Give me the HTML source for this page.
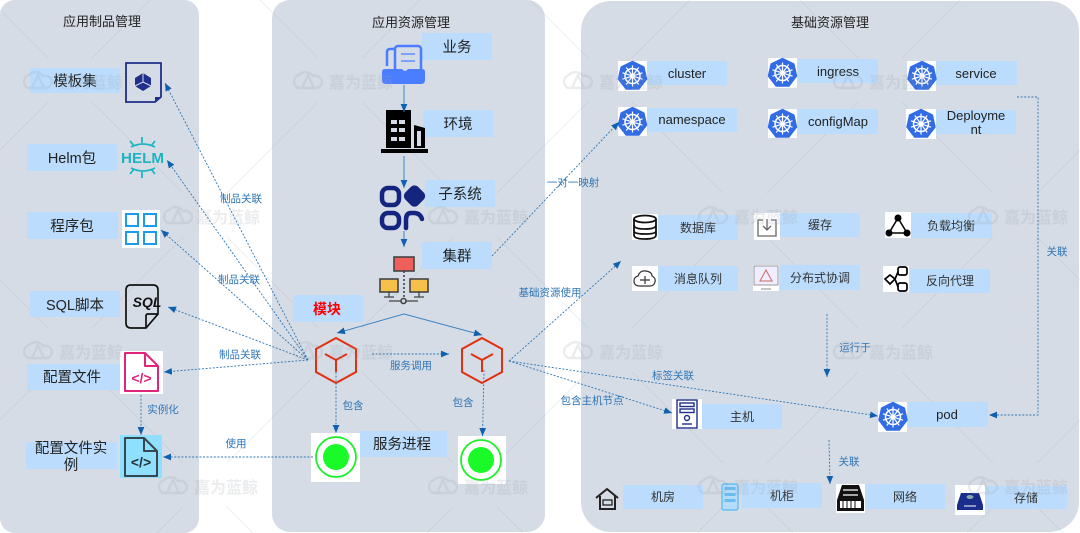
<!DOCTYPE html>
<html><head><meta charset="utf-8">
<style>
html,body{margin:0;padding:0;background:#fff;width:1080px;height:533px;overflow:hidden}
svg{display:block}
text{font-family:"Liberation Sans","Noto Sans CJK SC",sans-serif}
.l{font-size:14.5px;fill:#222;text-anchor:middle}
.m{font-size:12px;fill:#333;text-anchor:middle}
.e{font-size:13px;fill:#222;text-anchor:middle}
.t{font-size:13px;fill:#222;text-anchor:middle}
.c{font-size:10.5px;fill:#2e75b6;text-anchor:middle}
.w{font-size:16px;font-weight:bold;fill:#9aa0a8;letter-spacing:0}
.d{stroke:#2e75b6;stroke-width:.9;stroke-dasharray:2 1.6;fill:none}
.s{stroke:#3d85c6;stroke-width:1;fill:none}
.b{fill:#bbdcfd}
</style></head><body>
<svg width="1080" height="533" viewBox="0 0 1080 533" xmlns="http://www.w3.org/2000/svg">
<defs>
<marker id="a" markerUnits="userSpaceOnUse" markerWidth="9" markerHeight="8" refX="8" refY="4" orient="auto"><path d="M0 .6L8 4L0 7.400Z" fill="#1060b0"/></marker>
<g id="cl" fill="none" stroke="#9aa0a8" stroke-width="2.400"><path d="M8 17a7 7 0 0 1 1-13a9 9 0 0 1 14 1a7 7 0 0 1 9 6a6.500 6.500 0 0 1-5 6H8Z"/><path d="M12 17L18 4L24 17"/></g>
<g id="k"><path d="M0-14.500L11.300-9L14 3.100L6.300 13H-6.300L-14 3.100L-11.300-9Z" fill="#326ce5" stroke="#326ce5" stroke-width="1.500" stroke-linejoin="round"/>
<g fill="none" stroke="#fff"><circle r="7.500" stroke-width="1.500"/><circle r="2" stroke-width="1.200"/><path stroke-width="1.200" d="M0-10.500V10.500M-10-3.200L10 3.200M10-3.200L-10 3.200M-6.200-8.500L6.200 8.500M6.200-8.500L-6.200 8.500"/></g></g>
</defs>
<rect width="1080" height="533" fill="#fff"/>
<rect x="0" y="0" width="199" height="533" rx="15" fill="#d6dce5"/>
<rect x="272" y="0" width="273" height="532" rx="18" fill="#d6dce5"/>
<rect x="581" y="1" width="498" height="531" rx="30" fill="#d6dce5"/>

<!-- background lattice -->
<path stroke="#8a94a4" stroke-width="1" opacity=".14" fill="none" d="
M48 58L0 10M92 58L150 0M318 58L260 0M362 58L420 0M588 58L530 0M632 58L690 0M858 58L800 0M902 58L960 0
M92 102l91 91M362 102l91 91M632 102l91 91M902 102l91 91
M318 102l-91 91M588 102l-91 91M858 102l-91 91M48 102L0 150
M1037 193L1080 150
M183 237l-91 91M453 237l-91 91M723 237l-91 91M993 237l-91 91
M227 237l91 91M497 237l91 91M767 237l91 91M1037 237L1080 280
M48 328L0 280
M92 372l91 91M362 372l91 91M632 372l91 91M902 372l91 91
M318 372l-91 91M588 372l-91 91M858 372l-91 91M48 372L0 420
M1037 463L1080 420
M183 507L157 533M227 507L253 533M453 507L427 533M497 507L523 533M723 507L697 533M767 507L793 533M993 507L967 533M1037 507L1063 533
M227 193l91-91M497 193l91-91M767 193l91-91M183 193L92 102M453 193L362 102M723 193L632 102M993 193L902 102
M92 328l91-91M362 328l91-91M632 328l91-91M902 328l91-91M318 328L227 237M588 328L497 237M858 328L767 237
"/>

<!-- label boxes -->
<g class="b">
<rect x="30" y="68" width="90" height="25"/><rect x="27" y="144" width="90" height="27"/><rect x="27" y="212" width="91" height="27"/><rect x="30" y="291" width="90" height="26"/><rect x="27" y="364" width="93" height="26"/><rect x="26" y="442" width="91" height="27"/>
<rect x="422" y="33" width="70" height="27"/><rect x="423" y="110" width="70" height="27"/><rect x="425" y="180" width="70" height="27"/><rect x="422" y="242" width="70" height="27"/><rect x="293" y="295" width="70" height="27"/><rect x="357" y="431" width="90" height="26"/>
<rect x="647" y="61" width="80" height="24"/><rect x="647" y="108" width="90" height="24"/><rect x="798" y="59" width="80" height="24"/><rect x="798" y="109" width="80" height="25"/><rect x="936" y="61" width="81" height="24"/><rect x="936" y="110" width="80" height="24"/>
<rect x="658" y="215" width="80" height="25"/><rect x="780" y="213" width="80" height="24"/><rect x="911" y="213" width="81" height="25"/><rect x="658" y="266" width="80" height="25"/><rect x="780" y="265" width="80" height="25"/><rect x="910" y="269" width="80" height="24"/>
<rect x="702" y="404" width="80" height="25"/><rect x="908" y="402" width="80" height="25"/><rect x="623" y="485" width="80" height="24"/><rect x="742" y="483" width="80" height="25"/><rect x="865" y="484" width="80" height="25"/><rect x="985" y="486" width="82" height="23"/>
</g>

<!-- titles -->
<text class="t" x="102" y="26">应用制品管理</text>
<text class="t" x="411" y="27">应用资源管理</text>
<text class="t" x="830" y="27">基础资源管理</text>

<!-- left icons -->
<path d="M126 63H161V97L155 102H126Z" fill="none" stroke="#1f2f8a" stroke-width="1.800"/><path d="M155 102L161 97H155Z" fill="#1f2f8a"/>
<path d="M143 73L151 78V86L143 91L135 86V78Z" fill="#1f2f8a"/><path d="M143 82V73M143 82L135 86M143 82L151 86" stroke="#d6dce5" stroke-width="1"/>
<g stroke="#1db4c2" fill="none" stroke-width="1.800"><path d="M131 147Q143 141 155 147M131 168Q143 174 155 168M142 137V143M142 172V178M130 141L134 146M155 141L151 146M130 174L134 169M155 174L151 169"/></g>
<text x="142.500" y="163" text-anchor="middle" font-size="15" font-weight="bold" fill="#1db4c2" textLength="43" lengthAdjust="spacingAndGlyphs">HELM</text>
<rect x="122" y="210" width="38" height="38" fill="#fff"/>
<g fill="none" stroke="#1e9be8" stroke-width="2"><rect x="126" y="214" width="12" height="12"/><rect x="144" y="214" width="12" height="12"/><rect x="126" y="232" width="12" height="12"/><rect x="144" y="232" width="12" height="12"/></g>
<path d="M131 285H153Q158 285 158 290V314L146 328H131Q126 328 126 323V290Q126 285 131 285ZM158 314H148Q146 314 146 316V328" fill="none" stroke="#111" stroke-width="1.700"/>
<text x="147" y="307" text-anchor="middle" font-size="14" font-weight="bold" font-style="italic" fill="#111">SQL</text>
<rect x="120" y="351" width="43" height="43" fill="#fff"/>
<path d="M125 353H145L158 366V391H125ZM145 353V366H158" fill="none" stroke="#e0257a" stroke-width="2" stroke-linejoin="round"/>
<text x="141.500" y="383" text-anchor="middle" font-size="14" font-weight="bold" fill="#e0257a">&lt;/&gt;</text>
<rect x="120" y="435" width="42" height="43" fill="#8fdfff"/>
<path d="M125 438H144L157 451V476H125ZM144 438V451H157" fill="none" stroke="#37474f" stroke-width="2" stroke-linejoin="round"/>
<text x="141" y="467" text-anchor="middle" font-size="14" font-weight="bold" fill="#263238">&lt;/&gt;</text>

<!-- middle icons -->
<path d="M394 49H390Q387 49 387 52V66" fill="none" stroke="#4a7dff" stroke-width="2.500"/>
<rect x="395" y="46" width="26" height="26" rx="3" fill="none" stroke="#4a7dff" stroke-width="2.500"/>
<path d="M401 54H415M401 61H415" stroke="#7ba2ff" stroke-width="2"/>
<path d="M382 72Q382 69 385 69H402L405 72L408 69H422Q425 69 425 72V80Q425 84 421 84H386Q382 84 382 80Z" fill="#4a7dff"/>
<path d="M386 110H411V148H386ZM414 125L425 128V148H414ZM381 149H428V153H381Z" fill="#000"/>
<g fill="#d6dce5"><rect x="391" y="120" width="6" height="4"/><rect x="399" y="120" width="6" height="4"/><rect x="391" y="128" width="6" height="4"/><rect x="399" y="128" width="6" height="4"/><rect x="391" y="137" width="6" height="4"/><rect x="399" y="137" width="6" height="4"/><rect x="417" y="131" width="4" height="15"/></g>
<g fill="none" stroke="#13257f" stroke-width="4.500"><rect x="382" y="188" width="17" height="17" rx="6"/><rect x="382" y="213" width="17" height="15" rx="6"/><path d="M422 219Q420 213 414 213H411Q406 213 406 220V228" stroke-linecap="round"/></g>
<rect x="405.500" y="187" width="18" height="18" rx="5" fill="#13257f" transform="rotate(45 414.500 196)"/>
<g stroke="#444" fill="none" stroke-width="1.600">
<rect x="394" y="257" width="20" height="14" fill="#f0605a"/>
<path d="M404 271V297" stroke-dasharray="2 2"/>
<rect x="380" y="279" width="18" height="13" fill="#f7c04a"/><rect x="410" y="279" width="18" height="13" fill="#f7c04a"/>
<path d="M389 292V297M384 297H394M419 292V297M414 297H424M389 301H418" stroke-width="1.300"/>
<circle cx="403.500" cy="301" r="2.500" fill="#d6dce5"/></g>

<!-- hexagons -->
<g fill="none" stroke="#e03010" stroke-width="2">
<path d="M336 338L356 349V372L336 383L316 372V349Z"/><path d="M336 372V360M336 360L325 354M336 360L347 354"/>
<path d="M482 338L502 349V372L482 383L462 372V349Z"/><path d="M482 372V360M482 360L471 354M482 360L493 354"/>
</g>
<rect x="311" y="433" width="49" height="49" fill="#fff"/><circle cx="336" cy="457" r="20" fill="none" stroke="#1eee2a" stroke-width="1.800"/><circle cx="336" cy="457" r="13" fill="#1afa29"/>
<rect x="458" y="436" width="48" height="48" fill="#fff"/><circle cx="481" cy="460" r="20" fill="none" stroke="#1eee2a" stroke-width="1.800"/><circle cx="481" cy="460" r="13" fill="#1afa29"/>

<!-- k8s icons -->
<g fill="#fff"><rect x="618" y="61" width="29" height="30"/><rect x="618" y="107" width="29" height="29"/><rect x="768" y="58" width="29" height="30"/><rect x="768" y="109" width="29" height="29"/><rect x="907" y="61" width="29" height="30"/><rect x="906" y="109" width="30" height="30"/><rect x="878" y="402" width="29" height="30"/></g>
<use href="#k" x="632.500" y="76"/><use href="#k" x="632.500" y="122"/><use href="#k" x="782.500" y="73"/><use href="#k" x="782.500" y="124"/><use href="#k" x="922" y="76"/><use href="#k" x="921" y="124"/><use href="#k" x="893" y="417"/>

<!-- service icons -->
<rect x="632" y="214" width="26" height="26" fill="#fff"/>
<g fill="none" stroke="#111" stroke-width="1.800"><ellipse cx="645" cy="219" rx="11" ry="3.500"/><path d="M634 219V235Q634 239 645 239Q656 239 656 235V219M634 225Q634 229 645 229Q656 229 656 225M634 231Q634 234 645 234Q656 234 656 231"/></g>
<rect x="754" y="213" width="26" height="27" fill="#fff"/>
<path d="M763 220H758V236H776V220H771M767 219V230M763 226L767 230L771 226" fill="none" stroke="#666" stroke-width="1.300"/>
<rect x="885" y="212" width="26" height="26" fill="#fff"/>
<path d="M898 218L889 233H907Z" fill="none" stroke="#000" stroke-width="1.500"/><circle cx="898" cy="218" r="3.500"/><circle cx="889" cy="233" r="3.500"/><circle cx="907" cy="233" r="3.500"/>
<rect x="632" y="266" width="26" height="25" fill="#fff"/>
<path d="M640 286Q634 286 634 281Q634 277 638 276Q640 270 646 271Q652 272 652 276Q656 278 655 282Q654 286 650 286Z" fill="none" stroke="#333" stroke-width="1.200"/><path d="M640 280H650M645 276V284" stroke="#333" stroke-width="1.200"/>
<rect x="753" y="265" width="26" height="26" fill="#fff"/>
<path d="M754 266H778V285H754Z" fill="#eef" stroke="#999" stroke-width="1"/><path d="M766 270L760 281H772Z" fill="none" stroke="#c66" stroke-width="1"/><path d="M761 289H771" stroke="#888"/>
<rect x="883" y="266" width="26" height="26" fill="#fff"/>
<g fill="none" stroke="#000" stroke-width="1.700"><path d="M885 279L890 275L895 279L890 284Z"/><rect x="898" y="267" width="9" height="8" rx="2"/><rect x="898" y="283" width="9" height="8" rx="2"/><path d="M895 279L898 272M895 279L898 287"/></g>

<!-- host -->
<rect x="672" y="399" width="30" height="30" fill="#fff"/>
<g fill="none" stroke="#1f2f8a" stroke-width="1.400"><rect x="677" y="400" width="20" height="28"/><rect x="680" y="403" width="14" height="3.500"/><rect x="680" y="409" width="14" height="3.500"/><circle cx="687" cy="418" r="2.500"/><path d="M682 424H692"/></g>

<!-- bottom row -->
<path d="M596 498L607 489L618 498M600 496V509H615V496" fill="none" stroke="#222" stroke-width="2"/><rect x="603" y="500" width="9" height="5" fill="none" stroke="#222" stroke-width="1.300"/>
<rect x="722" y="484" width="16" height="26" rx="2" fill="#b5dcfa" stroke="#55b8f0" stroke-width="1.200"/><g fill="#6cbbee"><rect x="724.500" y="487" width="11" height="3"/><rect x="724.500" y="493" width="11" height="3"/><rect x="724.500" y="499" width="11" height="3"/></g>
<rect x="836" y="484" width="29" height="29" fill="#fff"/><path d="M842 485H859L864 500V511H837V500Z" fill="#111"/>
<path d="M843 490H858M843 495H858" stroke="#fff" stroke-width="1.300"/><rect x="840" y="501" width="21" height="7" fill="#fff"/><path d="M843 501V508M847 501V508M851 501V508M855 501V508" stroke="#111"/>
<rect x="955" y="485" width="30" height="30" fill="#fff"/><path d="M961 493H979L983 505V510H957V505Z" fill="#1a2d8c"/><ellipse cx="970" cy="497" rx="3.500" ry="2" fill="#8aa"/><path d="M964 506H976" stroke="#fff"/>

<!-- connectors -->
<g class="d">
<path d="M308 360L165 83" marker-end="url(#a)"/>
<path d="M308 360L167 160" marker-end="url(#a)"/>
<path d="M308 360L161 230" marker-end="url(#a)"/>
<path d="M308 360L168 307" marker-end="url(#a)"/>
<path d="M308 360L164 372" marker-end="url(#a)"/>
<path d="M141 395V435" marker-end="url(#a)"/>
<path d="M313 457H163" marker-end="url(#a)"/>
<path d="M372 354H449" marker-end="url(#a)"/>
<path d="M336 372V433" marker-end="url(#a)"/>
<path d="M484 370L482.500 436" marker-end="url(#a)"/>
<path d="M492 256L619 122" marker-end="url(#a)"/>
<path d="M509 361L621 261" marker-end="url(#a)"/>
<path d="M509 361L672 413" marker-end="url(#a)"/>
<path d="M509 361L878 416" marker-end="url(#a)"/>
<path d="M1017 97H1038V415H989" marker-end="url(#a)"/>
<path d="M827 314V377" marker-end="url(#a)"/>
<path d="M829 440L830 484" marker-end="url(#a)"/>
</g>
<g class="s">
<path d="M404 85V112" marker-end="url(#a)"/>
<path d="M404 156V188" marker-end="url(#a)"/>
<path d="M404 231V247" marker-end="url(#a)"/>
<path d="M404 314L337 333" marker-end="url(#a)"/>
<path d="M404 314L482 335" marker-end="url(#a)"/>
</g>

<!-- connector labels -->
<text class="c" x="241" y="202">制品关联</text>
<text class="c" x="239" y="283">制品关联</text>
<text class="c" x="240" y="358">制品关联</text>
<text class="c" x="163" y="413">实例化</text>
<text class="c" x="236" y="447">使用</text>
<text class="c" x="411" y="369">服务调用</text>
<text class="c" x="353" y="409">包含</text>
<text class="c" x="463" y="406">包含</text>
<text class="c" x="573" y="186">一对一映射</text>
<text class="c" x="550" y="296">基础资源使用</text>
<text class="c" x="592" y="404">包含主机节点</text>
<text class="c" x="673" y="379">标签关联</text>
<text class="c" x="855" y="351">运行于</text>
<text class="c" x="1057" y="255">关联</text>
<text class="c" x="849" y="465">关联</text>

<!-- labels -->
<text class="l" x="75" y="86">模板集</text>
<text class="l" x="72" y="163">Helm包</text>
<text class="l" x="72" y="231">程序包</text>
<text class="l" x="75" y="310">SQL脚本</text>
<text class="l" x="72" y="382">配置文件</text>
<text class="l" x="71" y="453">配置文件实</text>
<text class="l" x="71" y="470">例</text>
<text class="l" x="457" y="52">业务</text>
<text class="l" x="458" y="129">环境</text>
<text class="l" x="460" y="199">子系统</text>
<text class="l" x="457" y="261">集群</text>
<text x="327" y="314" text-anchor="middle" font-size="14" font-weight="bold" fill="#ff0000">模块</text>
<text class="l" x="402" y="449">服务进程</text>
<text class="e" x="687" y="78">cluster</text>
<text class="e" x="692" y="124">namespace</text>
<text class="e" x="838" y="76">ingress</text>
<text class="e" x="838" y="126">configMap</text>
<text class="e" x="976" y="78">service</text>
<text class="e" x="976" y="120">Deployme</text>
<text class="e" x="976" y="134">nt</text>
<text class="m" x="698" y="232">数据库</text>
<text class="m" x="820" y="229">缓存</text>
<text class="m" x="951" y="230">负载均衡</text>
<text class="m" x="698" y="283">消息队列</text>
<text class="m" x="820" y="282">分布式协调</text>
<text class="m" x="950" y="285">反向代理</text>
<text class="m" x="742" y="421">主机</text>
<text class="e" x="947" y="419">pod</text>
<text class="m" x="663" y="501">机房</text>
<text class="m" x="782" y="500">机柜</text>
<text class="m" x="905" y="501">网络</text>
<text class="m" x="1026" y="502">存储</text>

<!-- watermarks -->
<g opacity=".2">
<use href="#cl" x="20" y="71"/><text class="w" x="59" y="88">嘉为蓝鲸</text>
<use href="#cl" x="290" y="71"/><text class="w" x="329" y="88">嘉为蓝鲸</text>
<use href="#cl" x="560" y="71"/><text class="w" x="599" y="88">嘉为蓝鲸</text>
<use href="#cl" x="830" y="71"/><text class="w" x="869" y="88">嘉为蓝鲸</text>
<use href="#cl" x="160" y="206"/><text class="w" x="196" y="223">嘉为蓝鲸</text>
<use href="#cl" x="425" y="206"/><text class="w" x="464" y="223">嘉为蓝鲸</text>
<use href="#cl" x="695" y="206"/><text class="w" x="734" y="223">嘉为蓝鲸</text>
<use href="#cl" x="965" y="206"/><text class="w" x="1004" y="223">嘉为蓝鲸</text>
<use href="#cl" x="20" y="341"/><text class="w" x="59" y="358">嘉为蓝鲸</text>
<use href="#cl" x="290" y="341"/><text class="w" x="329" y="358">嘉为蓝鲸</text>
<use href="#cl" x="560" y="341"/><text class="w" x="599" y="358">嘉为蓝鲸</text>
<use href="#cl" x="830" y="341"/><text class="w" x="869" y="358">嘉为蓝鲸</text>
<use href="#cl" x="155" y="476"/><text class="w" x="194" y="493">嘉为蓝鲸</text>
<use href="#cl" x="425" y="476"/><text class="w" x="464" y="493">嘉为蓝鲸</text>
<use href="#cl" x="695" y="476"/><text class="w" x="734" y="493">嘉为蓝鲸</text>
<use href="#cl" x="965" y="476"/><text class="w" x="1004" y="493">嘉为蓝鲸</text>
</g>
</svg>
</body></html>
